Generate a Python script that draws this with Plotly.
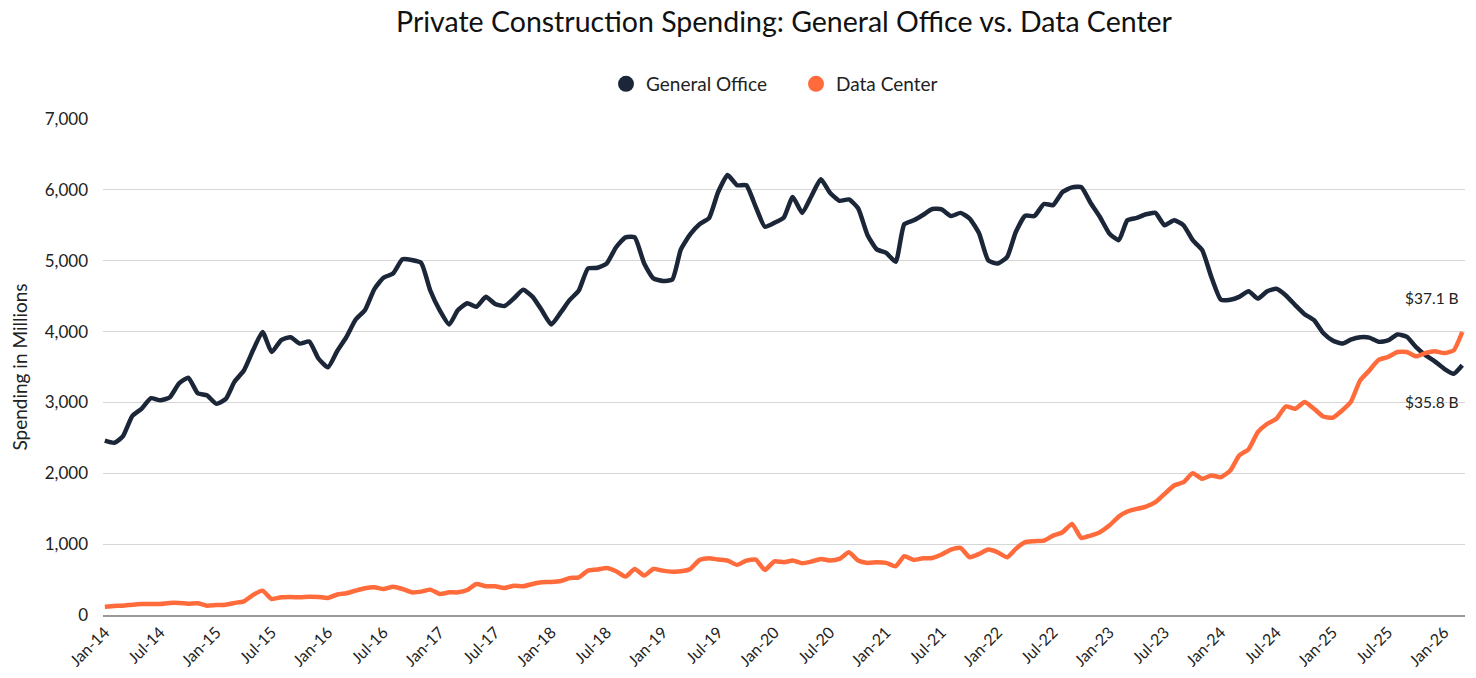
import pandas as pd
import plotly.graph_objects as go

start_month = "2014-01-01"

office = [2460, 2430, 2520, 2810, 2910, 3060, 3030, 3070, 3270, 3350, 3130, 3100,
          2980, 3050, 3290, 3450, 3735, 3995, 3710, 3880, 3920, 3830, 3860, 3620,
          3495, 3730, 3920, 4170, 4300, 4600, 4760, 4820, 5020, 5010, 4970, 4580,
          4300, 4100, 4300, 4400, 4350, 4490, 4390, 4360, 4470, 4590, 4490, 4300,
          4100, 4270, 4440, 4580, 4890, 4900, 4960, 5190, 5330, 5330, 4960, 4750,
          4715, 4735, 5160, 5375, 5515, 5600, 5970, 6210, 6065, 6065, 5760, 5480,
          5535, 5610, 5900, 5675, 5910, 6150, 5960, 5845, 5865, 5740, 5360, 5160,
          5110, 4985, 5515, 5570, 5645, 5730, 5725, 5630, 5675, 5595, 5385, 5005,
          4960, 5055, 5405, 5635, 5630, 5800, 5785, 5970, 6035, 6040, 5815, 5620,
          5385, 5290, 5570, 5605, 5655, 5675, 5500, 5570, 5500, 5290, 5150, 4770,
          4450, 4450, 4490, 4570, 4465, 4570, 4605, 4510, 4370, 4245, 4160, 3980,
          3875, 3830, 3885, 3920, 3915, 3855, 3875, 3960, 3925, 3780, 3665, 3580,
          3475, 3405, 3525]

datacenter = [118, 127, 132, 146, 155, 155, 155, 170, 170, 160, 165, 132,
              141, 146, 170, 193, 283, 344, 226, 250, 254, 250, 259, 254,
              240, 290, 306, 344, 377, 391, 367, 400, 367, 320, 330, 358,
              297, 320, 320, 353, 438, 405, 405, 381, 414, 405, 438, 462,
              466, 480, 520, 532, 626, 641, 664, 617, 542, 650, 556, 650,
              626, 612, 617, 650, 777, 801, 782, 768, 707, 768, 782, 636,
              758, 744, 768, 730, 754, 791, 768, 791, 885, 768, 735, 744,
              735, 688, 829, 777, 801, 805, 853, 923, 947, 815, 862, 923,
              885, 815, 933, 1027, 1041, 1050, 1121, 1168, 1286, 1088, 1121, 1168,
              1262, 1389, 1460, 1498, 1531, 1592, 1710, 1827, 1875, 2002, 1922, 1969,
              1945, 2039, 2251, 2340, 2580, 2699, 2769, 2944, 2911, 3005, 2911, 2802,
              2784, 2887, 3005, 3311, 3452, 3603, 3641, 3711, 3711, 3650, 3697, 3721,
              3697, 3735, 3994]

series_names = ["General Office", "Data Center"]
end_labels = ["$37.1 B", "$35.8 B"]
end_label_values = [4480, 3010]

dates = pd.date_range(start_month, periods=len(office), freq="MS")

NAVY = "#1b2638"
ORANGE = "#ff6b3b"
FONT = "Lato, 'Open Sans', sans-serif"

fig = go.Figure()
for name, vals, col in [(series_names[0], office, NAVY), (series_names[1], datacenter, ORANGE)]:
    fig.add_trace(go.Scatter(x=dates, y=vals, mode="lines", name=name,
                             line=dict(color=col, width=4.5, shape="spline", smoothing=0.5),
                             showlegend=False))
    fig.add_trace(go.Scatter(x=[None], y=[None], mode="markers", name=name,
                             marker=dict(color=col, size=20), showlegend=True))

for txt, v in zip(end_labels, end_label_values):
    fig.add_annotation(x=0.976, xref="paper", y=v, yref="y", text=txt, showarrow=False,
                       xanchor="center", yanchor="middle",
                       font=dict(family=FONT, size=15.5, color="#222"))

fig.update_layout(
    width=1476, height=678,
    paper_bgcolor="white", plot_bgcolor="white",
    margin=dict(l=103, r=11, t=119, b=63, autoexpand=False),
    font=dict(family=FONT, color="#222"),
    title=dict(text="Private Construction Spending: General Office vs. Data Center",
               x=784 / 1476, xref="container", xanchor="center",
               y=1 - 22 / 678, yref="container", yanchor="middle",
               font=dict(family=FONT, size=28.5, color="#111")),
    legend=dict(orientation="h", x=796 / 1476, xref="container", xanchor="center",
                y=1 - 84 / 678, yref="container", yanchor="middle",
                font=dict(family=FONT, size=19, color="#222"),
                itemsizing="trace", traceorder="normal", entrywidth=145),
    xaxis=dict(type="date",
               range=[pd.Timestamp("2013-12-26"), pd.Timestamp("2026-03-10")],
               tick0=start_month, dtick="M6", tickformat="%b-%y", tickangle=-45,
               showgrid=False, showline=True, linecolor="#999", linewidth=1.5,
               ticks="", tickfont=dict(family=FONT, size=16, color="#222"),
               zeroline=False, automargin=False),
    yaxis=dict(range=[0, 7000], dtick=1000, tickformat=",d",
               showgrid=True, gridcolor="#d6d6d6", gridwidth=1,
               zeroline=False, showline=False, ticks="", ticklabelstandoff=14,
               tickfont=dict(family=FONT, size=17, color="#222"),
               automargin=False,
               title=dict(text="Spending in Millions", standoff=12,
                          font=dict(family=FONT, size=19, color="#222"))),
)

fig.write_html("out.html")
